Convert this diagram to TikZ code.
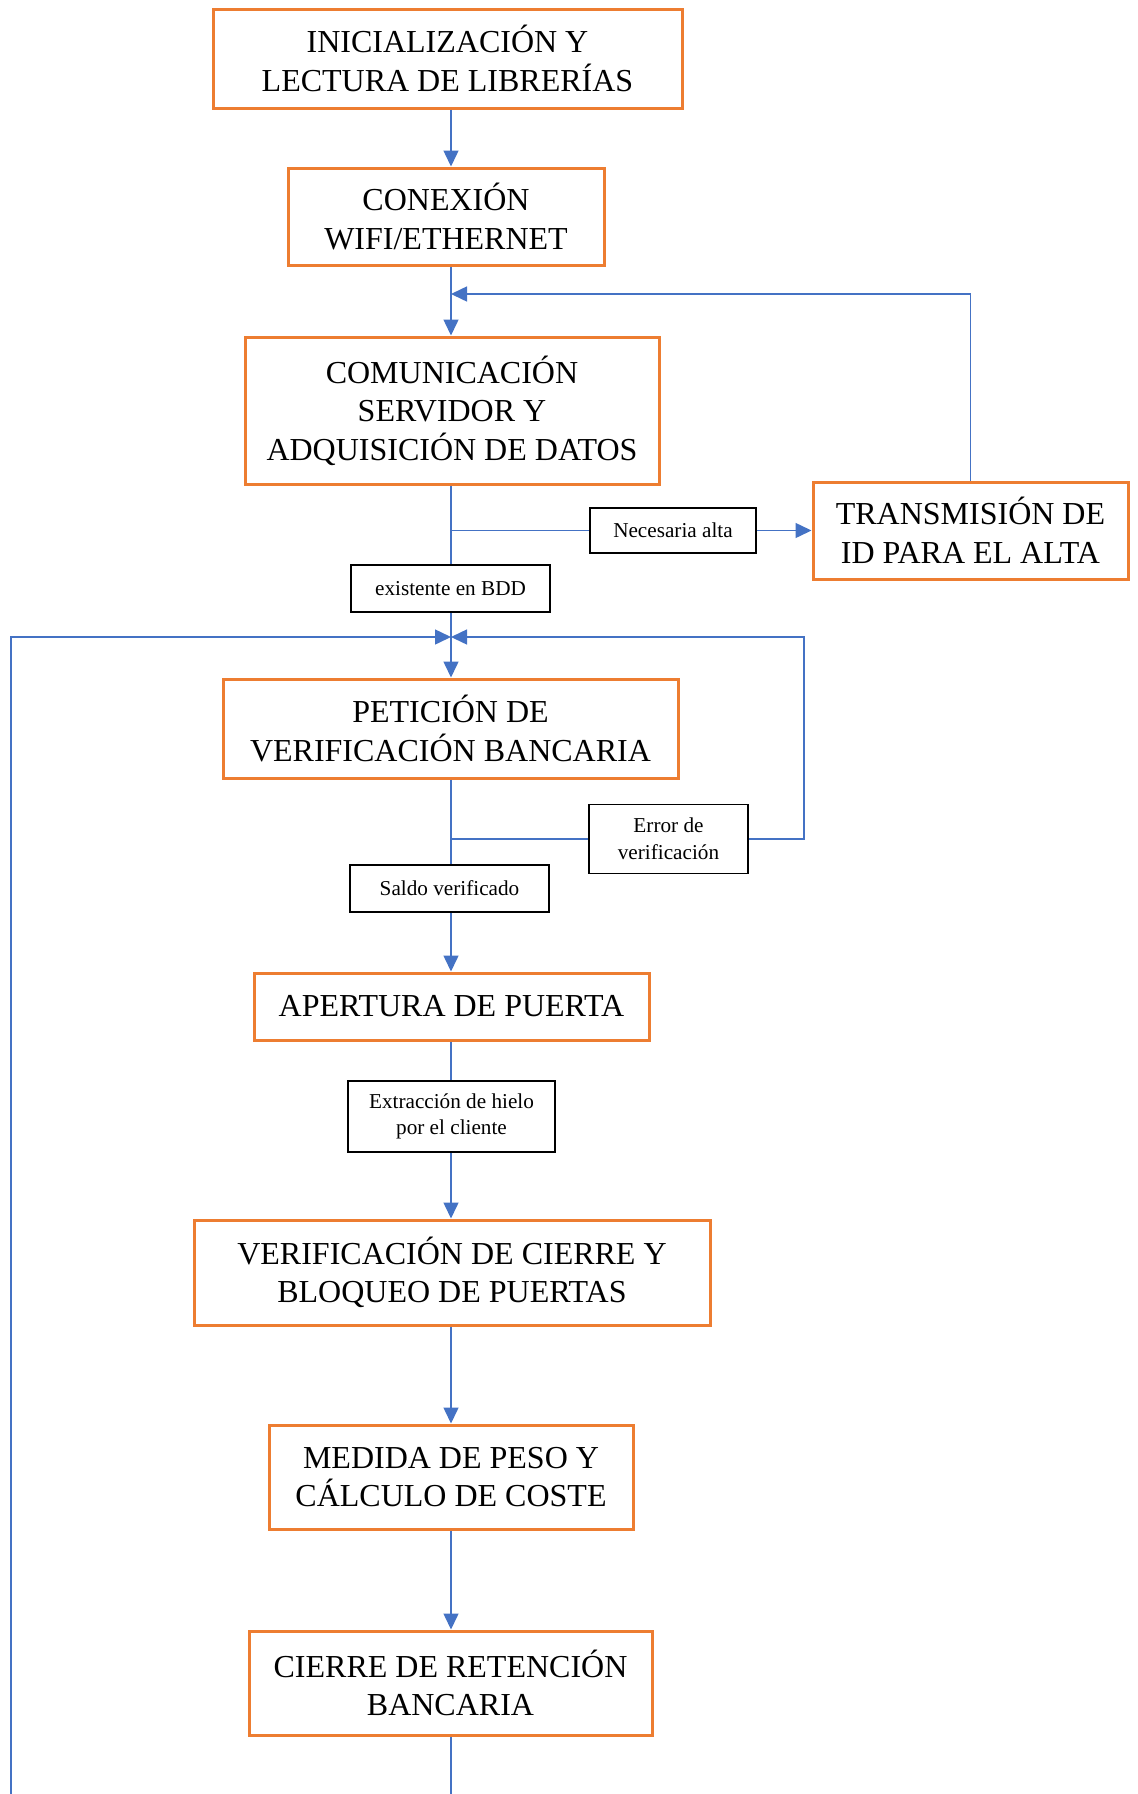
\documentclass[tikz,border=0pt]{standalone}
\usepackage{fontspec}
\setmainfont{Liberation Serif}
\usetikzlibrary{arrows.meta}
\definecolor{boxorange}{HTML}{ED7D31}
\definecolor{lineblue}{HTML}{4472C4}
\tikzset{
  obox/.style={draw=boxorange, line width=1.5pt, fill=white, align=center, inner sep=0pt,
    font=\fontsize{16}{19.3}\selectfont},
  lbox/.style={draw=black, line width=0.75pt, fill=white, align=center, inner sep=0pt,
    font=\fontsize{10.6}{13.3}\selectfont},
  conn/.style={draw=lineblue, line width=0.75pt},
  arr/.style={conn, -{Triangle[length=8pt,width=7.5pt]}}
}
\begin{document}
\begin{tikzpicture}[x=0.5pt,y=-0.5pt]
\useasboundingbox (0,0) rectangle (1137,1794);
\coordinate (T) at (451,0);
\coordinate (J1) at (451,294);
\coordinate (J2) at (451,637);
\coordinate (LB) at (11,1794);
\coordinate (CB) at (451,1794);
\coordinate (RL) at (804,637);

\node[obox, minimum width=234.5pt, minimum height=49.5pt] (b1) at (447.5,58.5) {INICIALIZACIÓN Y\\LECTURA DE LIBRERÍAS};
\node[obox, minimum width=158pt, minimum height=48.5pt] (b2) at (446,216.5) {CONEXIÓN\\WIFI/ETHERNET};
\node[obox, minimum width=207pt, minimum height=73.5pt] (b3) at (452,410.5) {COMUNICACIÓN\\SERVIDOR Y\\ADQUISICIÓN DE DATOS};
\node[obox, minimum width=157.5pt, minimum height=48.5pt] (tr) at (970.5,530.5) {TRANSMISIÓN DE\\ID PARA EL ALTA};
\node[lbox, minimum width=83pt, minimum height=22.5pt] (nec) at (673,530.5) {Necesaria alta};
\node[lbox, minimum width=99.5pt, minimum height=23.5pt] (exi) at (450.5,588.5) {existente en BDD};
\node[obox, minimum width=227.5pt, minimum height=49.5pt] (pet) at (450.5,728.5) {PETICIÓN DE\\VERIFICACIÓN BANCARIA};
\node[lbox, minimum width=79.5pt, minimum height=34.5pt] (err) at (668.5,839) {Error de\\verificación};
\node[lbox, minimum width=99.5pt, minimum height=23.5pt] (sal) at (449.5,888.5) {Saldo verificado};
\node[obox, minimum width=197.5pt, minimum height=33.5pt] (ape) at (451.5,1006.5) {APERTURA DE PUERTA};
\node[lbox, minimum width=103.5pt, minimum height=35.5pt] (ext) at (451.5,1116.5) {Extracción de hielo\\por el cliente};
\node[obox, minimum width=258pt, minimum height=52.5pt] (ver) at (452,1272.5) {VERIFICACIÓN DE CIERRE Y\\BLOQUEO DE PUERTAS};
\node[obox, minimum width=182pt, minimum height=52pt] (med) at (451,1477) {MEDIDA DE PESO Y\\CÁLCULO DE COSTE};
\node[obox, minimum width=201.5pt, minimum height=52pt] (cie) at (450.5,1683) {CIERRE DE RETENCIÓN\\BANCARIA};

% main trunk
\draw[arr] (b1.south -| T) -- (b2.north -| T);
\draw[arr] (b2.south -| T) -- (b3.north -| T);
\draw[arr] (tr.north) |- (J1);
\draw[conn] (b3.south -| T) -- (exi.north -| T);
\draw[conn] (nec.west -| T) -- (nec.west);
\draw[arr] (nec.east) -- (tr.west);
\draw[arr] (exi.south -| T) -- (pet.north -| T);
\draw[arr] (LB) -- (LB |- J2) -- (J2);
\draw[arr] (err.east) -| (RL) -- (J2);
\draw[conn] (pet.south -| T) -- (sal.north -| T);
\draw[conn] (err.west -| T) -- (err.west);
\draw[arr] (sal.south -| T) -- (ape.north -| T);
\draw[conn] (ape.south -| T) -- (ext.north -| T);
\draw[arr] (ext.south -| T) -- (ver.north -| T);
\draw[arr] (ver.south -| T) -- (med.north -| T);
\draw[arr] (med.south -| T) -- (cie.north -| T);
\draw[conn] (cie.south -| T) -- (CB);
\end{tikzpicture}
\end{document}
